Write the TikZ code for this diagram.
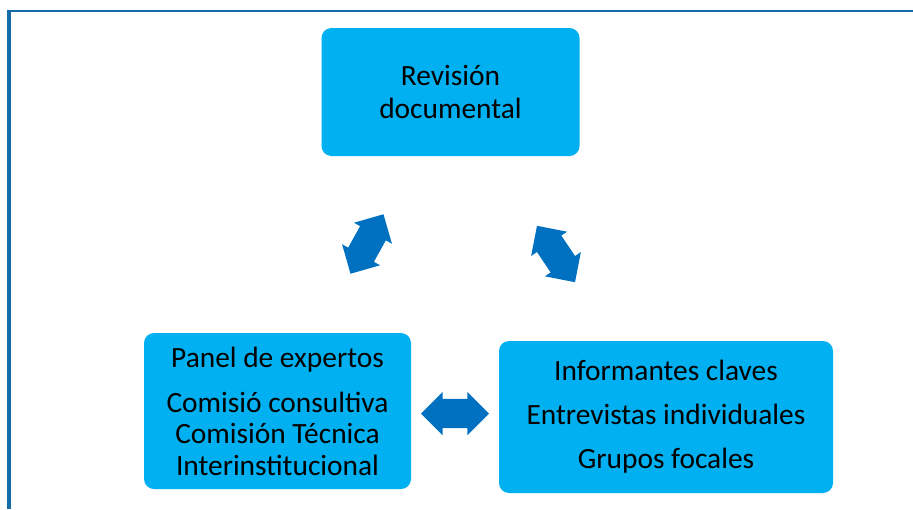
\documentclass[tikz,border=0pt]{standalone}
\usepackage{fontspec}
\setmainfont{Carlito}
\usetikzlibrary{shapes}
\definecolor{boxblue}{RGB}{0,176,240}
\definecolor{arrowblue}{RGB}{0,112,192}
\definecolor{frameblue}{RGB}{20,108,168}

\begin{document}
\begin{tikzpicture}[x=1pt,y=1pt,
	box/.style={fill=boxblue,rounded corners=10pt,align=center,inner sep=0pt},
	dblarrow/.style={double arrow,fill=arrowblue,double arrow head extend=7pt,inner xsep=0pt,inner ysep=14.5pt,minimum height=68pt}]
	\useasboundingbox (0,0) rectangle (913,-509);
	\draw[frameblue,line width=4pt] (9.3,-509) -- (9.3,-10);
	\draw[frameblue,line width=2.4pt] (7.3,-11.2) -- (913,-11.2);

	\node[box,minimum width=258pt,minimum height=128pt,font=\fontsize{29.4}{32.7}\selectfont] (bRev) at (450.5,-92)
		{Revisión\\documental};
	\node[box,minimum width=267pt,minimum height=156pt,font=\fontsize{29.4}{31.5}\selectfont] (bPanel) at (277.5,-411)
		{Panel de expertos\\[13.5pt]Comisió consultiva\\Comisión Técnica\\Interinstitucional};
	\node[box,minimum width=334pt,minimum height=152pt,font=\fontsize{29.4}{44}\selectfont] (bInf) at (666,-417)
		{Informantes claves\\Entrevistas individuales\\Grupos focales};

	\node[dblarrow,rotate=61] (aLeft) at (367,-244) {};
	\node[dblarrow,rotate=-56] (aRight) at (556,-254) {};
	\node[dblarrow] (aMid) at (455,-413.5) {};
\end{tikzpicture}
\end{document}
